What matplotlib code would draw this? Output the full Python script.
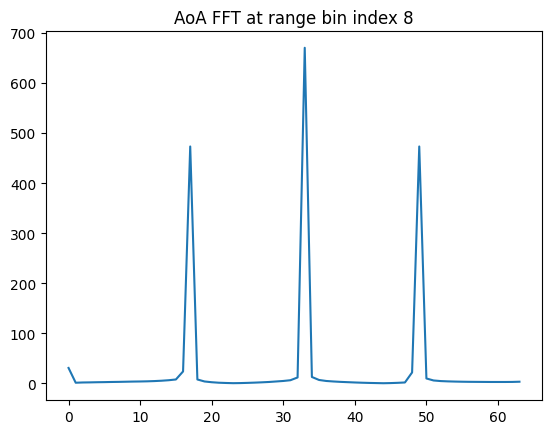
import matplotlib
matplotlib.use("Agg")
import matplotlib.pyplot as plt

bins = list(range(64))
magnitude = [
    31, 1.5, 2, 2.2, 2.5, 2.7, 3, 3.2, 3.5, 3.8,
    4, 4.3, 4.8, 5.5, 6.5, 8, 24, 473, 8, 4,
    2.5, 1.5, 1, 0.6, 0.8, 1.2, 1.7, 2.3, 3, 4,
    5, 6.5, 12, 670, 13, 7, 5, 4, 3.2, 2.6,
    2, 1.5, 1.1, 0.8, 0.5, 0.8, 1.3, 2, 22, 473,
    10, 6, 4.8, 4.2, 3.8, 3.5, 3.3, 3.2, 3.1, 3,
    3, 3, 3.1, 3.5,
]

fig = plt.figure(figsize=(5.52, 4.35), dpi=100)
ax = fig.add_axes([46/552, 1 - 401/435, (542-46)/552, (401-32)/435])
ax.plot(bins, magnitude)
ax.set_title("AoA FFT at range bin index 8")
fig.savefig("out.png", dpi=100)
